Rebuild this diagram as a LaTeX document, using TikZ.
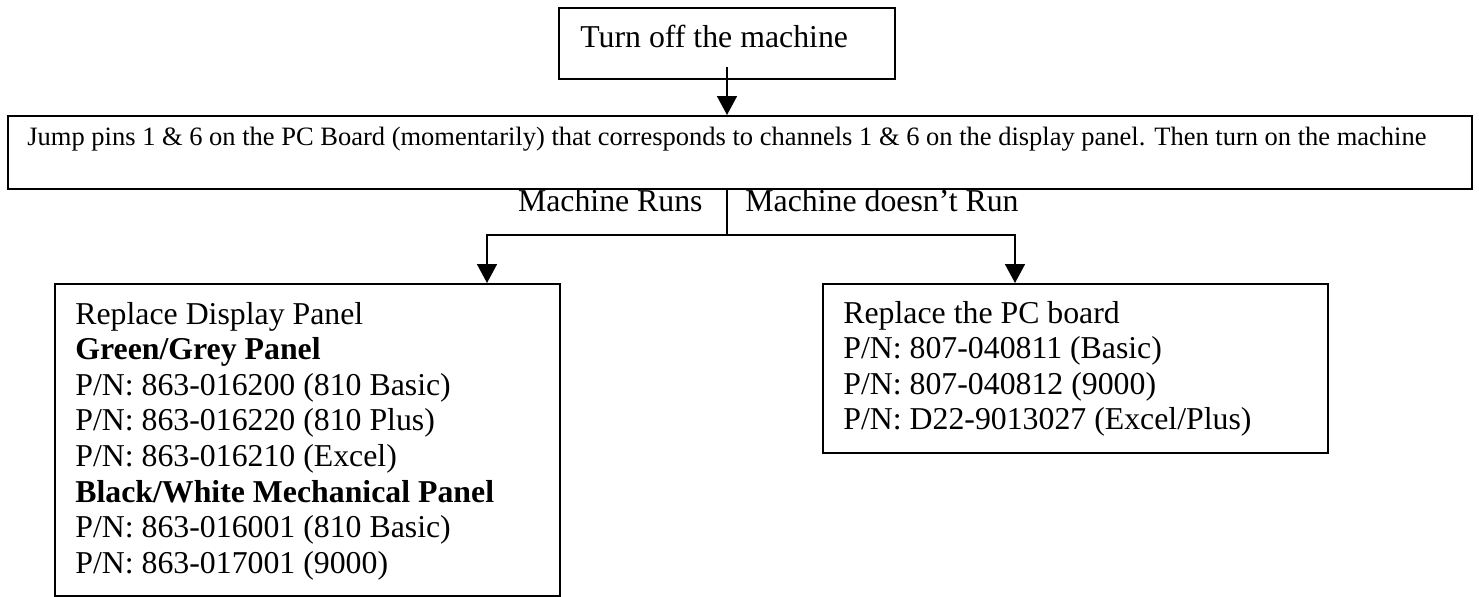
\documentclass[tikz,border=0pt]{standalone}
\usepackage{fontspec}
\setmainfont{Liberation Serif}
\usetikzlibrary{arrows.meta}
\newcommand\bigf{\fontsize{15.9pt}{17.8pt}\selectfont}
\newcommand\smallf{\fontsize{13.25pt}{15pt}\selectfont}
\begin{document}
\begin{tikzpicture}[x=0.5pt,y=-0.5pt,
  box/.style={draw=black, line width=0.8pt, rectangle, inner sep=0pt, anchor=north west},
  txt/.style={inner sep=0pt, font=\bigf},
  arr/.style={line width=0.8pt, -{Triangle[width=10pt,length=9.5pt]}},
  con/.style={line width=0.8pt}]
\useasboundingbox (0,0) rectangle (1479,596);
% boxes
\node[box, minimum width=168pt, minimum height=35.5pt] (top) at (558,7) {};
\node[box, minimum width=732pt, minimum height=36.5pt] (jump) at (7,115) {};
\node[box, minimum width=252.5pt, minimum height=156pt] (left) at (54,283) {};
\node[box, minimum width=252.5pt, minimum height=84.5pt] (right) at (822,283) {};
% texts
\node[txt, anchor=base west] (topT) at (580,47) {Turn off the machine};
\node[txt, anchor=base west, font=\smallf] (jumpT) at (27,145) {Jump pins 1 \& 6 on the PC Board (momentarily) that corresponds to channels 1 \& 6 on the display panel. Then turn on the machine};
\node[txt, anchor=base west] (leftT) at (75,324) {\parbox[t]{245pt}{\bigf Replace Display Panel\\
\textbf{Green/Grey Panel}\\
P/N: 863-016200 (810 Basic)\\
P/N: 863-016220 (810 Plus)\\
P/N: 863-016210 (Excel)\\
\textbf{Black/White Mechanical Panel}\\
P/N: 863-016001 (810 Basic)\\
P/N: 863-017001 (9000)}};
\node[txt, anchor=base west] (rightT) at (843,323) {\parbox[t]{240pt}{\bigf Replace the PC board\\
P/N: 807-040811 (Basic)\\
P/N: 807-040812 (9000)\\
P/N: D22-9013027 (Excel/Plus)}};
\node[txt, anchor=base east] (lab1) at (703,211) {Machine Runs};
\node[txt, anchor=base west] (lab2) at (745,211) {Machine doesn’t Run};
% connectors
\coordinate (s0) at (727,67);
\coordinate (br) at (727,235);
\coordinate (la) at (487,283);
\coordinate (ra) at (1015,283);
\draw[arr] (s0) -- (s0 |- jump.north);
\draw[con] (br |- jump.south) -- (br);
\draw[arr] (br) -| (la);
\draw[arr] (br) -| (ra);
\end{tikzpicture}
\end{document}
